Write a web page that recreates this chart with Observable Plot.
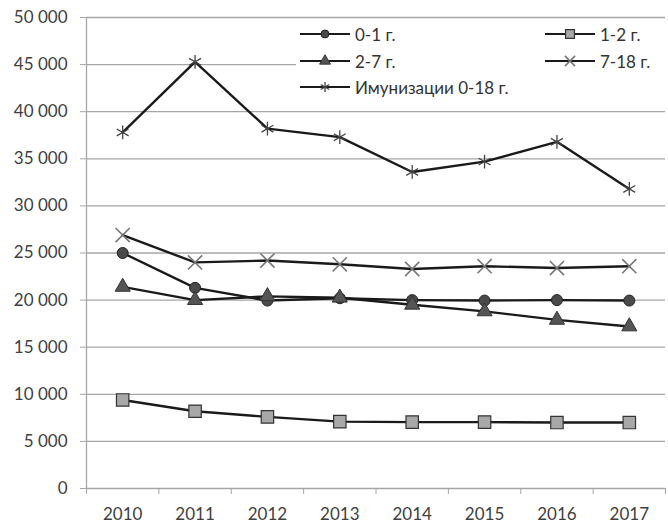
<!DOCTYPE html>
<html>
<head>
<meta charset="utf-8">
<script src="https://cdn.jsdelivr.net/npm/d3@7"></script>
<script src="https://cdn.jsdelivr.net/npm/@observablehq/plot@0.6"></script>
<style>
  body { margin: 0; background: #fff; font-family: Lato, "Open Sans", sans-serif; }
  #wrap { position: relative; width: 668px; height: 523px; }
  #legend { position: absolute; left: 296px; top: 21px; width: 372px; height: 80px; background: #fff; }
  .item { position: absolute; display: flex; align-items: center; font-size: 17px; color: #333; height: 22px; }
  .item svg { margin-right: 5px; }
</style>
</head>
<body>
<div id="wrap"><div id="chart"></div><div id="legend"></div></div>
<script>
const years = [2010, 2011, 2012, 2013, 2014, 2015, 2016, 2017];
const seriesNames = ["0-1 г.", "1-2 г.", "2-7 г.", "7-18 г.", "Имунизации 0-18 г."];
const v01  = [25000, 21300, 19950, 20200, 20000, 19950, 20000, 19950];
const v12  = [9400, 8200, 7600, 7100, 7050, 7050, 7000, 7000];
const v27  = [21400, 20000, 20400, 20250, 19500, 18800, 17900, 17200];
const v718 = [26900, 24000, 24200, 23800, 23300, 23600, 23400, 23600];
const vImm = [37800, 45300, 38200, 37300, 33600, 34700, 36800, 31800];
const yTicks = [0, 5000, 10000, 15000, 20000, 25000, 30000, 35000, 40000, 45000, 50000];

const values = [v01, v12, v27, v718, vImm];
const styles = [
  {symbol: "circle",   r: 5.5, fill: "#4a4a4a", stroke: "#222", sw: 1},
  {symbol: "square",   r: 7,   fill: "#a8a8a8", stroke: "#333", sw: 1.2},
  {symbol: "triangle", r: 5.6, fill: "#555",    stroke: "#333", sw: 1},
  {symbol: "times",    r: 6.5, fill: "none",    stroke: "#777", sw: 1.6},
  {symbol: "asterisk", r: 6.5, fill: "none",    stroke: "#444", sw: 1.3}
];
const rows = seriesNames.flatMap((s, k) => years.map((yr, i) => ({year: yr, value: values[k][i], series: s})));
const bounds = [...years.map(y => y - 0.5), years[years.length - 1] + 0.5];
const fmt = d => d3.format(",")(d).replace(/,/g, "\u00a0");
const grid = "#a6a6a6";

const chart = Plot.plot({
  width: 668, height: 523,
  marginLeft: 86, marginRight: 3, marginTop: 17, marginBottom: 35,
  style: {fontFamily: "Lato, 'Open Sans', sans-serif", color: "#404040", background: "#fff"},
  x: {domain: [bounds[0], bounds[bounds.length - 1]]},
  y: {domain: [0, 50000]},
  marks: [
    Plot.gridY(yTicks, {stroke: grid, strokeOpacity: 1, strokeWidth: 1.3}),
    Plot.ruleX([bounds[0]], {stroke: grid, strokeWidth: 1.3}),
    Plot.axisY(yTicks, {tickSize: 6, tickPadding: 13, tickFormat: fmt, stroke: grid, fill: "#404040", fontSize: 17, label: null}),
    Plot.axisX(bounds, {tickSize: 6, tickFormat: () => "", stroke: grid, label: null}),
    Plot.axisX(years, {tickSize: 0, tickPadding: 19, tickFormat: d => String(d), fill: "#404040", fontSize: 17, label: null}),
    Plot.line(rows, {x: "year", y: "value", z: "series", stroke: "#1a1a1a", strokeWidth: 2.4}),
    ...seriesNames.map((s, k) => Plot.dot(rows.filter(d => d.series === s), {
      x: "year", y: "value", symbol: () => styles[k].symbol, r: styles[k].r,
      fill: styles[k].fill, stroke: styles[k].stroke, strokeWidth: styles[k].sw
    }))
  ]
});
document.getElementById("chart").appendChild(chart);

const symMap = {circle: d3.symbolCircle, square: d3.symbolSquare, triangle: d3.symbolTriangle, times: d3.symbolTimes, asterisk: d3.symbolAsterisk};
const pos = [[4, 2], [249, 2], [4, 29], [249, 29], [4, 55]];
const legend = document.getElementById("legend");
seriesNames.forEach((s, k) => {
  const st = styles[k];
  const rr = st.r * 0.72;
  const div = document.createElement("div");
  div.className = "item";
  div.style.left = pos[k][0] + "px";
  div.style.top = pos[k][1] + "px";
  const path = d3.symbol(symMap[st.symbol], Math.PI * rr * rr)();
  div.innerHTML = `<svg width="50" height="20"><line x1="0" x2="50" y1="10" y2="10" stroke="#1a1a1a" stroke-width="2.2"/>` +
    `<path d="${path}" transform="translate(25,10)" fill="${st.fill}" stroke="${st.stroke}" stroke-width="${st.sw}"/></svg><span>${s}</span>`;
  legend.appendChild(div);
});
</script>
</body>
</html>
